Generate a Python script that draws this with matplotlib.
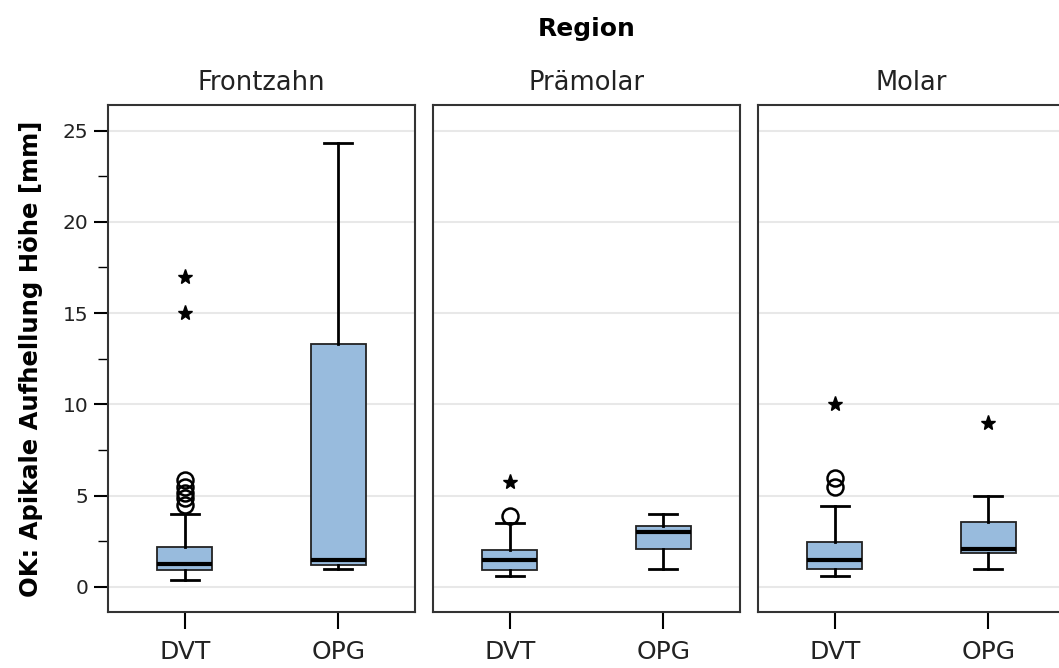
import matplotlib
matplotlib.use('Agg')
import matplotlib.pyplot as plt

plt.rcParams['font.family'] = ['DejaVu Sans']

regions = ['Frontzahn', 'Prämolar', 'Molar']
groups = ['DVT', 'OPG']

# Kennwerte je Region: [DVT, OPG]
whisker_low = [[0.4, 1.0], [0.6, 1.0], [0.6, 1.0]]
q1 = [[0.95, 1.2], [0.95, 2.1], [1.0, 1.85]]
median = [[1.25, 1.5], [1.5, 3.0], [1.5, 2.1]]
q3 = [[2.2, 13.3], [2.0, 3.35], [2.45, 3.55]]
whisker_high = [[4.0, 24.3], [3.5, 4.0], [4.45, 5.0]]
circles = [[[4.5, 4.85, 5.15, 5.5, 5.85], []], [[3.9], []], [[5.45, 5.95], []]]
stars = [[[15.0, 17.0], []], [[5.75], []], [[10.0], [9.0]]]

fill = '#98bbdd'

fig = plt.figure(figsize=(10.59, 6.68), dpi=100)

left0 = 108 / 1059
w = 307 / 1059
gap = 18 / 1059
bottom = 1 - 612 / 668
height = (612 - 105) / 668

for i, reg in enumerate(regions):
    ax = fig.add_axes([left0 + i * (w + gap), bottom, w, height])
    stats = []
    for j, g in enumerate(groups):
        stats.append({'whislo': whisker_low[i][j], 'q1': q1[i][j], 'med': median[i][j],
                      'q3': q3[i][j], 'whishi': whisker_high[i][j], 'fliers': circles[i][j],
                      'label': g})
    ax.bxp(stats, positions=[1, 2], widths=0.36, patch_artist=True,
           boxprops=dict(facecolor=fill, edgecolor='#222222', linewidth=1.3),
           medianprops=dict(color='black', linewidth=3),
           whiskerprops=dict(color='black', linewidth=2),
           capprops=dict(color='black', linewidth=2),
           capwidths=0.18,
           flierprops=dict(marker='o', markerfacecolor='none', markeredgecolor='black',
                           markersize=11.5, markeredgewidth=1.8),
           zorder=3)
    for j, g in enumerate(groups):
        ys = stars[i][j]
        ax.plot([j + 1] * len(ys), ys, linestyle='none', marker='*', color='black',
                markersize=11, zorder=4)

    ax.set_xlim(0.5, 2.5)
    ax.set_ylim(-1.37, 26.4)
    ax.set_yticks([0, 5, 10, 15, 20, 25])
    ax.set_yticks([2.5, 7.5, 12.5, 17.5, 22.5], minor=True)
    ax.grid(axis='y', color='#e8e8e8', linewidth=1.5, zorder=0)
    ax.set_axisbelow(True)
    ax.set_xticks([1, 2])
    ax.set_xticklabels(groups, fontsize=18, color='#222222')
    ax.tick_params(axis='x', length=12, width=1.5, pad=8)
    if i == 0:
        ax.tick_params(axis='y', which='major', length=10, width=1.5, labelsize=14.5,
                       labelcolor='#222222', pad=4)
        ax.tick_params(axis='y', which='minor', length=7, width=1)
        ax.set_ylabel('OK: Apikale Aufhellung Höhe [mm]', fontsize=17.5,
                      fontweight='bold', labelpad=14)
    else:
        ax.tick_params(axis='y', which='both', left=False, labelleft=False)
    for s in ax.spines.values():
        s.set_color('#333333')
        s.set_linewidth(1.5)
    ax.set_title(reg, fontsize=18.5, pad=11, color='#222222')

fig.text(0.554, 0.946, 'Region', ha='center', va='baseline', fontsize=18, fontweight='bold')

fig.savefig('out.png', dpi=100)
